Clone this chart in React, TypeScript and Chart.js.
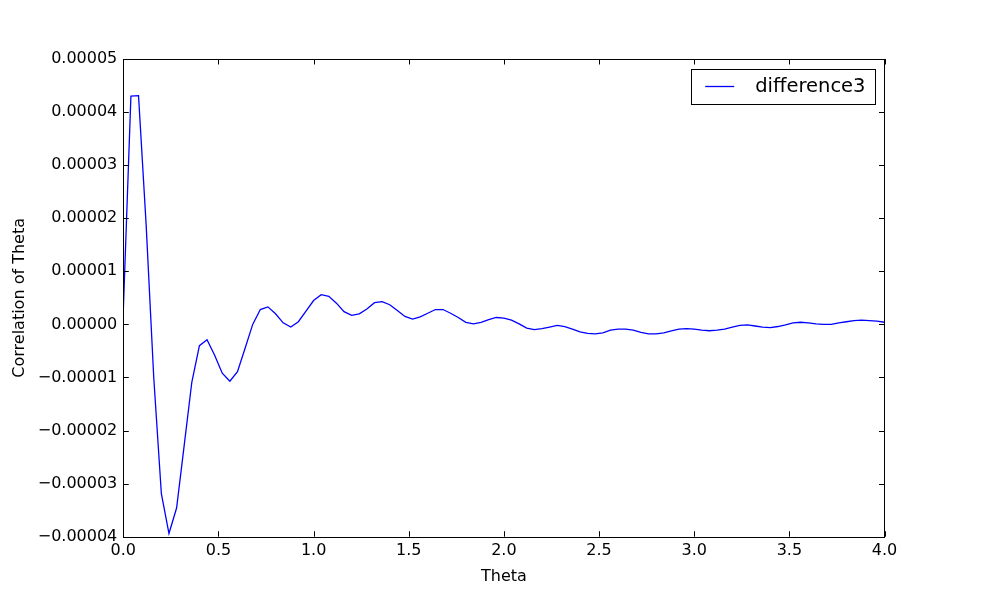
import React, { useEffect, useRef } from "react";
import { Chart, registerables, type ChartConfiguration, type Plugin } from "chart.js";

Chart.register(...registerables);

// x positions (Theta)
const theta = [
  0, 0.04, 0.08, 0.12, 0.16, 0.2, 0.24, 0.28, 0.32, 0.36,
  0.4, 0.44, 0.48, 0.52, 0.56, 0.6, 0.64, 0.68, 0.72, 0.76,
  0.8, 0.84, 0.88, 0.92, 0.96, 1.0, 1.04, 1.08, 1.12, 1.16,
  1.2, 1.24, 1.28, 1.32, 1.36, 1.4, 1.44, 1.48, 1.52, 1.56,
  1.6, 1.64, 1.68, 1.72, 1.76, 1.8, 1.84, 1.88, 1.92, 1.96,
  2.0, 2.04, 2.08, 2.12, 2.16, 2.2, 2.24, 2.28, 2.32, 2.36,
  2.4, 2.44, 2.48, 2.52, 2.56, 2.6, 2.64, 2.68, 2.72, 2.76,
  2.8, 2.84, 2.88, 2.92, 2.96, 3.0, 3.04, 3.08, 3.12, 3.16,
  3.2, 3.24, 3.28, 3.32, 3.36, 3.4, 3.44, 3.48, 3.52, 3.56,
  3.6, 3.64, 3.68, 3.72, 3.76, 3.8, 3.84, 3.88, 3.92, 3.96,
  4.0,
];

const difference3 = [
  0.26e-5, 4.3e-5, 4.31e-5, 1.88e-5, -1.0e-5, -3.19e-5, -3.94e-5, -3.46e-5, -2.28e-5, -1.09e-5,
  -0.4e-5, -0.29e-5, -0.58e-5, -0.92e-5, -1.07e-5, -0.89e-5, -0.45e-5, 0.0, 0.28e-5, 0.33e-5,
  0.2e-5, 0.03e-5, -0.05e-5, 0.05e-5, 0.25e-5, 0.45e-5, 0.56e-5, 0.53e-5, 0.4e-5, 0.24e-5,
  0.17e-5, 0.2e-5, 0.29e-5, 0.41e-5, 0.43e-5, 0.37e-5, 0.26e-5, 0.15e-5, 0.1e-5, 0.14e-5,
  0.21e-5, 0.28e-5, 0.28e-5, 0.21e-5, 0.13e-5, 0.04e-5, 0.01e-5, 0.04e-5, 0.09e-5, 0.13e-5,
  0.12e-5, 0.08e-5, 0.01e-5, -0.07e-5, -0.1e-5, -0.08e-5, -0.05e-5, -0.02e-5, -0.04e-5, -0.09e-5,
  -0.14e-5, -0.17e-5, -0.18e-5, -0.16e-5, -0.11e-5, -0.09e-5, -0.09e-5, -0.11e-5, -0.15e-5, -0.18e-5,
  -0.18e-5, -0.16e-5, -0.12e-5, -0.09e-5, -0.08e-5, -0.09e-5, -0.11e-5, -0.12e-5, -0.11e-5, -0.09e-5,
  -0.05e-5, -0.02e-5, -0.01e-5, -0.03e-5, -0.05e-5, -0.06e-5, -0.04e-5, -0.01e-5, 0.03e-5, 0.04e-5,
  0.03e-5, 0.01e-5, 0.0, 0.0, 0.03e-5, 0.05e-5, 0.07e-5, 0.08e-5, 0.07e-5, 0.06e-5,
  0.04e-5,
];

const xTicks = [0, 0.5, 1.0, 1.5, 2.0, 2.5, 3.0, 3.5, 4.0];
const yTicks = [-0.00004, -0.00003, -0.00002, -0.00001, 0, 0.00001, 0.00002, 0.00003, 0.00004, 0.00005];

const seriesLabel = "difference3";
const xTitle = "Theta";
const yTitle = "Correlation of Theta";

const FONT = "'DejaVu Sans', sans-serif";
const LINE_COLOR = "#0000ff";

function formatY(v: number): string {
  const s = Math.abs(v).toFixed(5);
  return v < -1e-12 ? "\u2212" + s : s;
}

// matplotlib-style frame: full box, inward ticks on all four sides, boxed legend
const frameAndLegend: Plugin<"line"> = {
  id: "frameAndLegend",
  afterDraw(chart) {
    const { ctx, chartArea: a, scales } = chart;
    const len = 5.5;
    ctx.save();
    ctx.strokeStyle = "#000";
    ctx.lineWidth = 1;
    ctx.beginPath();
    for (const v of xTicks) {
      const px = Math.round(scales.x.getPixelForValue(v)) + 0.5;
      ctx.moveTo(px, a.bottom);
      ctx.lineTo(px, a.bottom - len);
      ctx.moveTo(px, a.top);
      ctx.lineTo(px, a.top + len);
    }
    for (const v of yTicks) {
      const py = Math.round(scales.y.getPixelForValue(v)) + 0.5;
      ctx.moveTo(a.left, py);
      ctx.lineTo(a.left + len, py);
      ctx.moveTo(a.right, py);
      ctx.lineTo(a.right - len, py);
    }
    ctx.stroke();
    ctx.strokeRect(
      Math.round(a.left) + 0.5,
      Math.round(a.top) + 0.5,
      Math.round(a.right - a.left),
      Math.round(a.bottom - a.top),
    );

    // legend
    ctx.font = `19.5px ${FONT}`;
    const textW = ctx.measureText(seriesLabel).width;
    const boxW = 14 + 29 + 21 + textW + 10;
    const boxH = 35;
    const boxRight = a.right - 9;
    const boxLeft = boxRight - boxW;
    const boxTop = a.top + 10;
    const midY = boxTop + boxH / 2;
    ctx.fillStyle = "#fff";
    ctx.fillRect(boxLeft, boxTop, boxW, boxH);
    ctx.strokeRect(Math.round(boxLeft) + 0.5, Math.round(boxTop) + 0.5, Math.round(boxW), boxH);
    ctx.strokeStyle = LINE_COLOR;
    ctx.lineWidth = 1.3;
    ctx.beginPath();
    ctx.moveTo(boxLeft + 14, Math.round(midY) - 0.5);
    ctx.lineTo(boxLeft + 43, Math.round(midY) - 0.5);
    ctx.stroke();
    ctx.fillStyle = "#000";
    ctx.textBaseline = "middle";
    ctx.textAlign = "left";
    ctx.fillText(seriesLabel, boxLeft + 64, midY);
    ctx.restore();
  },
};

export default function App() {
  const canvasRef = useRef<HTMLCanvasElement | null>(null);
  const chartRef = useRef<Chart<"line"> | null>(null);

  useEffect(() => {
    if (!canvasRef.current) return;

    const tickFont = { family: FONT, size: 16 };

    const config: ChartConfiguration<"line"> = {
      type: "line",
      data: {
        datasets: [
          {
            label: seriesLabel,
            data: theta.map((x, i) => ({ x, y: difference3[i] })),
            borderColor: LINE_COLOR,
            borderWidth: 1.3,
            backgroundColor: LINE_COLOR,
            fill: false,
            tension: 0,
            pointRadius: 0,
          },
        ],
      },
      options: {
        responsive: false,
        animation: false,
        layout: { padding: { top: 59, right: 98.5, left: 0, bottom: 0 } },
        plugins: {
          legend: { display: false },
          tooltip: { enabled: false },
        },
        scales: {
          x: {
            type: "linear",
            min: 0,
            max: 4,
            afterBuildTicks: (s) => {
              s.ticks = xTicks.map((value) => ({ value }));
            },
            afterFit: (s) => {
              s.height = 60.3;
            },
            grid: { display: false, drawTicks: false },
            border: { display: false },
            ticks: {
              color: "#000",
              font: tickFont,
              padding: 5,
              maxRotation: 0,
              autoSkip: false,
              callback: (v) => Number(v).toFixed(1),
            },
            title: {
              display: true,
              text: xTitle,
              color: "#000",
              font: tickFont,
              padding: { top: 0, bottom: 11 },
            },
          },
          y: {
            type: "linear",
            min: -0.00004,
            max: 0.00005,
            afterBuildTicks: (s) => {
              s.ticks = yTicks.map((value) => ({ value }));
            },
            afterFit: (s) => {
              s.width = 123.3;
            },
            grid: { display: false, drawTicks: false },
            border: { display: false },
            ticks: {
              color: "#000",
              font: tickFont,
              padding: 6,
              autoSkip: false,
              callback: (v) => formatY(Number(v)),
            },
            title: {
              display: true,
              text: yTitle,
              color: "#000",
              font: tickFont,
              padding: { top: 10, bottom: 0 },
            },
          },
        },
      },
      plugins: [frameAndLegend],
    };

    chartRef.current = new Chart(canvasRef.current, config);

    return () => {
      chartRef.current?.destroy();
      chartRef.current = null;
    };
  }, []);

  return (
    <div style={{ position: "fixed", left: 0, top: 0, width: 983, height: 597, background: "#fff" }}>
      <canvas ref={canvasRef} width={983} height={597} style={{ display: "block" }} aria-label="difference3 chart" />
    </div>
  );
}
